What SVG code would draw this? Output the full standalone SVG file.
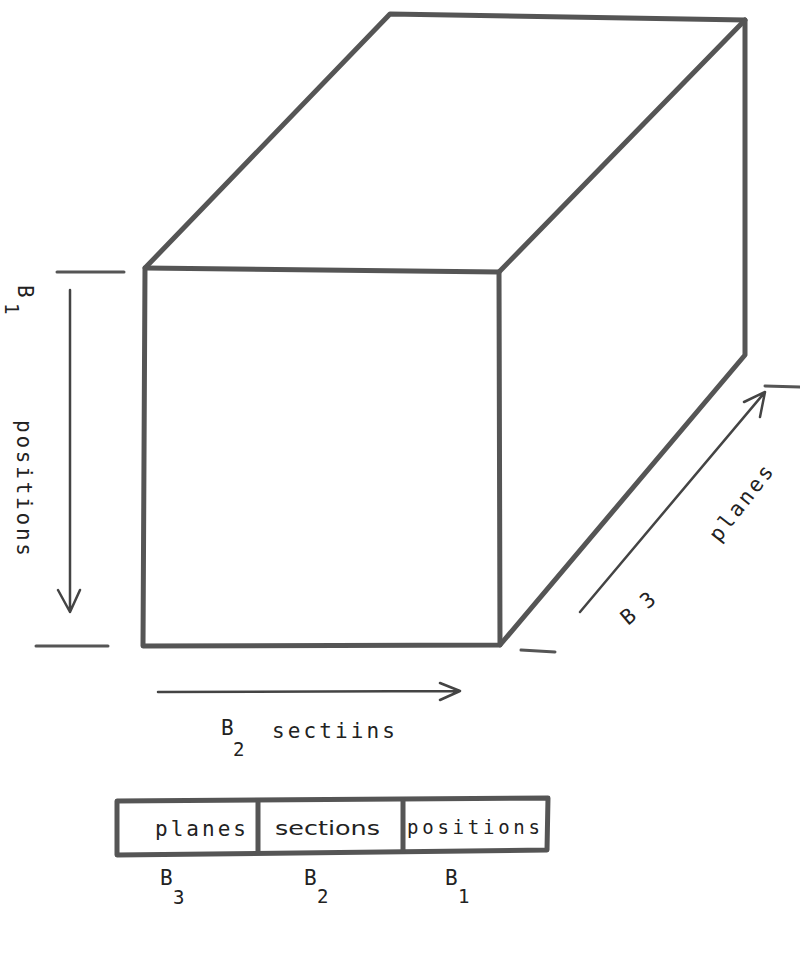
<svg xmlns="http://www.w3.org/2000/svg" width="800" height="954" viewBox="0 0 800 954">
<style>
.edge{fill:none;stroke:#555;stroke-width:5;stroke-linejoin:round;stroke-linecap:round}
.tick{fill:none;stroke:#555;stroke-width:3;stroke-linecap:round}
.arr{fill:none;stroke:#444;stroke-width:2.5;stroke-linecap:round;stroke-linejoin:round}
.t{font-family:"DejaVu Sans Mono","Liberation Mono",monospace;font-size:21px;fill:#222}
.s{font-family:"DejaVu Sans Mono","Liberation Mono",monospace;font-size:19px;fill:#222}
.p{font-family:"DejaVu Sans","Liberation Sans",sans-serif;font-size:19px;fill:#222}
</style>
<rect width="800" height="954" fill="#fff"/>
<g id="cube">
<path class="edge" d="M145,268 L390,14 L745,20 L745,355 L500,645 L143,646 Z"/>
<path class="edge" d="M145,268 L499,272 L500,645"/>
<path class="edge" d="M499,272 L745,20"/>
</g>
<g id="ticks">
<line class="tick" x1="57" y1="272" x2="124" y2="272"/>
<line class="tick" x1="36" y1="646" x2="108" y2="646"/>
<line class="tick" x1="765" y1="386" x2="800" y2="387"/>
<line class="tick" x1="521" y1="650" x2="555" y2="652"/>
</g>
<g id="connectors">
<path class="arr" d="M70,290 L70,612 M58,590 L70,612 L80,590"/>
<path class="arr" d="M158,692 L460,691 M440,683 L460,691 L440,700"/>
<path class="arr" d="M580,612 L765,392 M744,402 L765,392 L760,417"/>
</g>
<g id="labels">
<text class="t" transform="translate(18,285) rotate(90)">B</text>
<text class="s" transform="translate(5,303) rotate(90)">1</text>
<text class="t" transform="translate(17,420) rotate(90)" textLength="136" lengthAdjust="spacing">positions</text>
<text class="t" x="221" y="735">B</text>
<text class="s" x="233" y="756">2</text>
<text class="t" x="272" y="738" textLength="123" lengthAdjust="spacing">sectiins</text>
<text class="t" transform="translate(719,543) rotate(-52)" textLength="90" lengthAdjust="spacing">planes</text>
<text class="t" transform="translate(628,626) rotate(-40)" textLength="38" lengthAdjust="spacing">B 3</text>
</g>
<g id="record">
<path class="edge" d="M117,801 L548,798 L547,850 L117,855 Z"/>
<line class="edge" x1="258" y1="802" x2="258" y2="852"/>
<line class="edge" x1="403" y1="801" x2="403" y2="851"/>
<text class="t" x="155" y="836" textLength="91" lengthAdjust="spacing">planes</text>
<text class="p" x="275" y="835" textLength="105" lengthAdjust="spacingAndGlyphs">sections</text>
<text class="s" x="407" y="834" textLength="133" lengthAdjust="spacing">positions</text>
<text class="t" x="160" y="885">B</text>
<text class="s" x="173" y="904">3</text>
<text class="t" x="304" y="885">B</text>
<text class="s" x="317" y="903">2</text>
<text class="t" x="445" y="885">B</text>
<text class="s" x="458" y="903">1</text>
</g>
</svg>
